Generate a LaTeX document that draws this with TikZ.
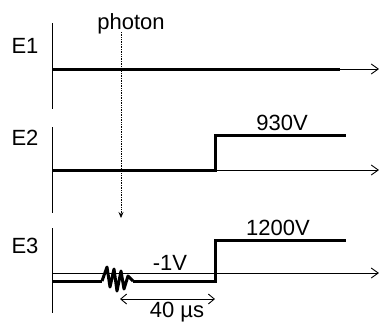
\documentclass[tikz,border=0pt]{standalone}
\usepackage{fontspec}
\setmainfont{Liberation Sans}
\usetikzlibrary{arrows.meta}
\tikzset{
  signal/.style={line width=3pt,line join=miter},
  axisline/.style={line width=.9pt,-{Straight Barb[length=7pt,width=10pt]}},
  timeline/.style={line width=.9pt},
  lbl/.style={inner sep=0pt,anchor=base,font=\fontsize{22}{25}\selectfont}
}
\begin{document}
\begin{tikzpicture}[x=1pt,y=-1pt]
  \useasboundingbox (0,0) rectangle (379,322);
  % time axes
  \coordinate (a1t) at (52,23);  \coordinate (a1b) at (52,109);
  \coordinate (a2t) at (52,127); \coordinate (a2b) at (52,213);
  \coordinate (a3t) at (52,228); \coordinate (a3b) at (52,313);
  \coordinate (x1s) at (52,69);  \coordinate (x1e) at (379,69);
  \coordinate (x2s) at (52,170); \coordinate (x2e) at (379,170);
  \coordinate (x3s) at (52,273); \coordinate (x3e) at (379,273);
  \draw[timeline] (a1t)--(a1b); \draw[timeline] (a2t)--(a2b); \draw[timeline] (a3t)--(a3b);
  \draw[axisline] (x1s)--(x1e);
  \draw[axisline] (x2s)--(x2e);
  \draw[axisline] (x3s)--(x3e);
  % electrode voltages
  \coordinate (e1e) at (340,69);
  \coordinate (s2) at (215,170); \coordinate (e2e) at (346,135);
  \coordinate (b3) at (52,281); \coordinate (w3s) at (102,281); \coordinate (w3e) at (133,281);
  \coordinate (s3) at (215,281); \coordinate (e3e) at (346,240);
  \draw[signal] (x1s)--(e1e);
  \draw[signal] (x2s)--(s2)|-(e2e);
  \draw[signal] (b3)--(w3s);
  \draw[line width=3pt,line join=round] (w3s)--(107,267)--(110,287)--(114,269)--(117,291)
    --(121,271)--(124,289)--(128,276)--(w3e);
  \draw[signal] (w3e)--(s3)|-(e3e);
  % photon
  \coordinate (ph) at (121,32); \coordinate (hit) at (121,218);
  \draw[densely dotted,line width=.7pt,-{Stealth[length=6pt,width=5pt]}] (ph)--(hit);
  \node[lbl] (photon) at (131,29) {photon};
  \coordinate (dtl) at (120,299); \coordinate (dtr) at (215,299);
  \draw[line width=.9pt,{Straight Barb[length=6pt,width=10pt]}-{Straight Barb[length=6pt,width=10pt]}] (dtl)--(dtr);
  \node[lbl] (E1) at (25,53) {E1};
  \node[lbl] (E2) at (25,145) {E2};
  \node[lbl] (E3) at (25,253) {E3};
  \node[lbl] (v930) at (282,130) {930V};
  \node[lbl] (v1200) at (278,235) {1200V};
  \node[lbl] (vm1) at (170,270) {-1V};
  \node[lbl] (dt) at (177,317) {40 µs};
\end{tikzpicture}
\end{document}
